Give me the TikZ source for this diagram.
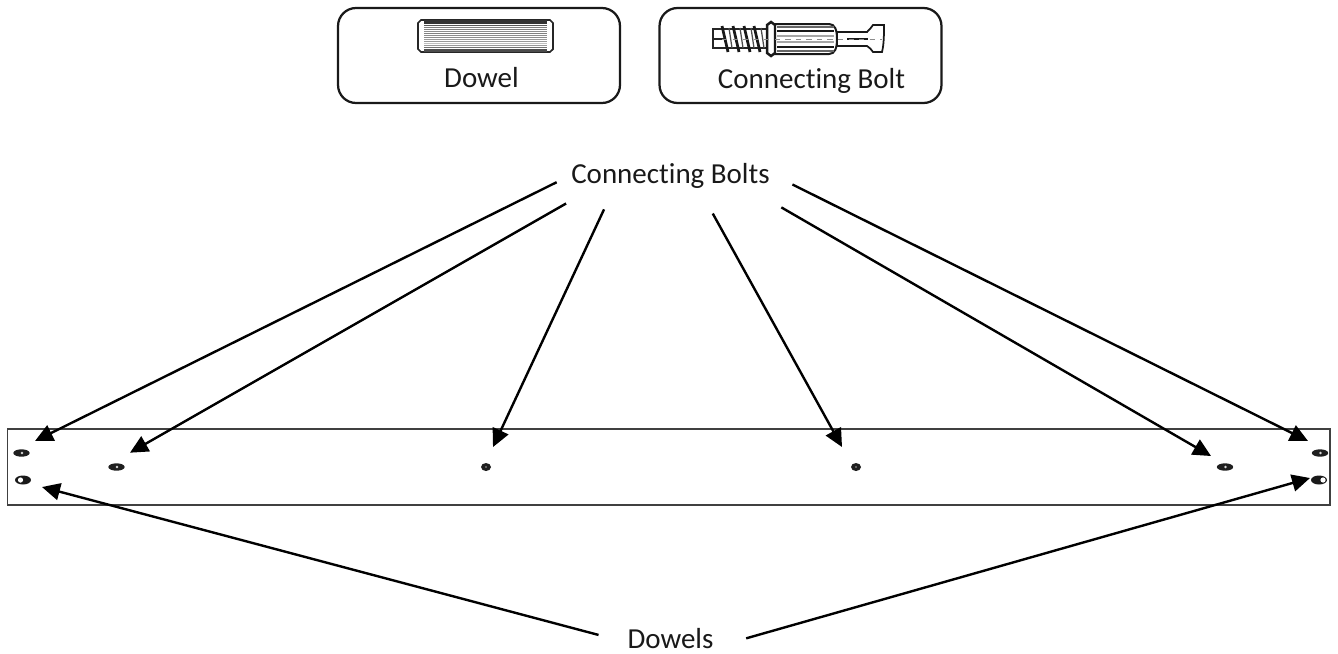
\documentclass[tikz,border=0pt]{standalone}
\usepackage{fontspec}
\setmainfont[Ligatures=CommonOff]{Carlito}
\usetikzlibrary{arrows.meta}

\begin{document}
\begin{tikzpicture}[
  x=0.02cm, y=-0.02cm,
  >={Triangle[length=0.36cm,width=0.34cm]},
  every node/.style={font=\fontsize{16.5}{20}\selectfont, text=black!90},
  keybox/.style={draw=black!90, line width=0.045cm, rounded corners=0.36cm, minimum width=5.64cm, minimum height=1.9cm, inner sep=0pt},
  calllabel/.style={minimum height=0.56cm, inner sep=0pt},
  callarrow/.style={->, black, line width=0.048cm}
]
\useasboundingbox (0,0) rectangle (1338,653);

% Key boxes
\node[keybox] (dowelbox) at (479,55.5) {};
\node[keybox] (boltbox) at (800.5,55.5) {};
\node (dowelname) at (481.5,78) {Dowel};
\node (boltname) at (811.5,80.5) {Connecting Bolt};

% Dowel icon
\draw[black!85, line width=0.035cm, fill=white] (421,20) -- (550,20) -- (553,23) -- (553,49) -- (550,52) -- (421,52) -- (418,49) -- (418,23) -- cycle;
\fill[black!80] (424,20) rectangle (547,24);
\fill[black!70] (424,49) rectangle (547,52);
\foreach \y/\c in {25/65, 27/50, 29/50, 31/45, 33/50, 35/45, 37/45, 39/40, 41/40, 43/25, 45/40, 47/55} {
  \draw[black!\c, line width=0.016cm] (424,\y) -- (547,\y);
}

% Bolt icon
\draw[black!85, line width=0.04cm, fill=white] (713,29) -- (767,29) -- (767,48) -- (713,48) -- cycle;
\foreach \x in {722,733,744,754} {
  \draw[black!90, line width=0.055cm] (\x,26) -- (\x+6,52);
  \draw[black!70, line width=0.025cm] (\x+7,28) -- (\x+10,48);
}
\draw[black!85, line width=0.04cm] (713,39) -- (724,39);
\draw[black!90, line width=0.05cm, fill=white] (767,25) -- (771,22) -- (775,25) -- (775,53) -- (771,56) -- (767,53) -- cycle;
\draw[black!90, line width=0.04cm, fill=white] (775,24) -- (829,24) .. controls (835,24) and (837,30) .. (837,39) .. controls (837,48) and (835,54) .. (829,54) -- (775,54) -- cycle;
\foreach \y/\c/\w in {27/60/0.03, 31/90/0.05, 36/35/0.025, 42/35/0.025, 47/90/0.05, 51/60/0.03} {
  \draw[black!\c, line width=\w cm] (777,\y) -- (834,\y);
}
\draw[black!90, line width=0.035cm, fill=white] (837,32) -- (867,32) .. controls (870,30) and (871,27) .. (873,25) -- (884,25) .. controls (884,34) and (884,44) .. (882,52) -- (873,52) .. controls (871,50) and (870,47) .. (867,46) -- (837,46) -- cycle;
\draw[black!90, line width=0.055cm] (847,39) -- (868,39);
\draw[black!45, line width=0.015cm, dashed] (722,39) -- (882,39);

% Panel
\draw[black!75, line width=0.03cm] (7.5,429) rectangle (1330,505);

% Fasteners
\foreach \x/\y in {21.5/453, 116.5/467, 1225/467, 1320/453} {
  \fill[black!88] (\x,\y) ellipse (8.2 and 3.7);
  \fill[black!15] (\x+0.5,\y) circle (1.3);
}
\foreach \x/\y in {486/467, 856/467} {
  \fill[black!88] (\x,\y) ellipse (5 and 4);
  \fill[black!35] (\x,\y) circle (0.9);
}
\foreach \x/\y/\w in {23/480/20.5, 1319/480/1323} {
  \fill[black!90] (\x,\y) ellipse (8 and 4.5);
  \fill[white] (\w,\y) circle (2.6);
}

% Call-outs
\node[calllabel, minimum width=4.04cm] (boltslabel) at (670.5,176) {Connecting Bolts};
\node[calllabel, minimum width=1.84cm] (dowelslabel) at (670.5,638.5) {Dowels};
\coordinate (tipa) at (35,441);
\coordinate (tipb) at (130,452.7);
\coordinate (tipc) at (493,447);
\coordinate (tipd) at (842,447);
\coordinate (tipe) at (1211,456);
\coordinate (tipf) at (1308,441);
\coordinate (tipg) at (42,487);
\coordinate (tiph) at (1310,478);
\foreach \ang/\gap/\tip in {180.5/0.28/tipa, 190.6/0.53/tipb, 194.4/0.42/tipc, 334.8/0.53/tipd, 350.07/0.68/tipe, 1.84/0.46/tipf} {
  \draw[callarrow, shorten <=\gap cm] (boltslabel.\ang) -- (\tip);
}
\draw[callarrow, shorten <=0.53cm] (dowelslabel.184.1) -- (tipg);
\draw[callarrow, shorten <=0.61cm] (dowelslabel.-10.95) -- (tiph);
\end{tikzpicture}
\end{document}
